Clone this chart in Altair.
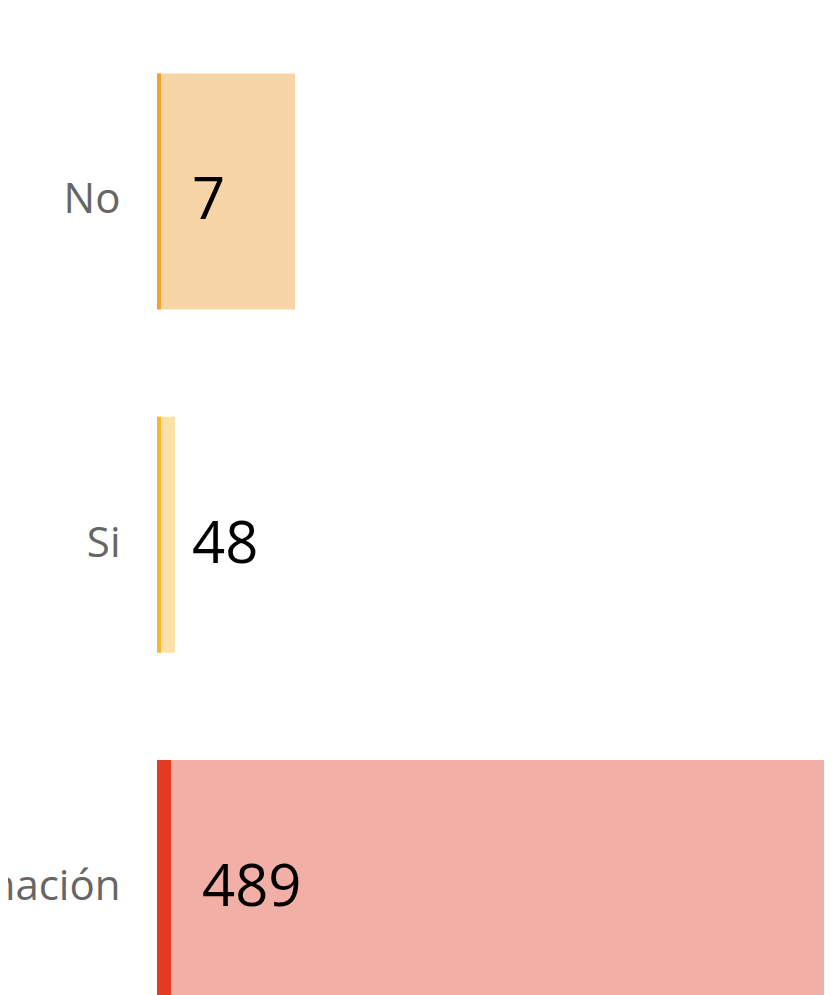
import altair as alt
import pandas as pd

categories = ["No", "Si", "Sin información"]
labels = ["7", "48", "489"]
total_len = [138, 18, 720]
accent_len = [4, 4, 14]
light_colors = ["#F8D5A6", "#FCE1A9", "#F2AFA6"]
dark_colors = ["#F4A12F", "#F8B72E", "#E43A22"]

df = pd.DataFrame({
    "cat": categories,
    "label": labels,
    "total": total_len,
    "accent": accent_len,
    "light": light_colors,
    "dark": dark_colors,
})

y = alt.Y("cat:N", sort=categories, title=None,
          scale=alt.Scale(paddingInner=0.3125, paddingOuter=0.0953, align=1),
          axis=alt.Axis(domain=False, ticks=False, labelFontSize=42,
                        labelColor="#666666", labelFont="Open Sans",
                        labelPadding=37, labelLimit=0, labelOffset=9))
xs = alt.Scale(domain=[0, 667], nice=False, zero=True)

base = alt.Chart(df)
light = base.mark_bar().encode(
    x=alt.X("total:Q", scale=xs, axis=None),
    y=y,
    color=alt.Color("light:N", scale=None),
)
dark = base.mark_bar().encode(
    x=alt.X("accent:Q", scale=xs, axis=None),
    y=y,
    color=alt.Color("dark:N", scale=None),
)
text = base.mark_text(align="left", baseline="middle", dx=31, dy=11,
                      fontSize=58, font="Open Sans", color="#000000").encode(
    x=alt.X("accent:Q", scale=xs, axis=None),
    y=y,
    text="label:N",
)

chart = alt.layer(light, dark, text).properties(
    width=667, height=988,
    autosize=alt.AutoSizeParams(type="none"),
    padding={"left": 149, "right": 0, "top": 0, "bottom": 0},
).configure_view(stroke=None).configure_axis(grid=False)

chart.save("out.html", embed_options={"renderer": "svg", "actions": False})
